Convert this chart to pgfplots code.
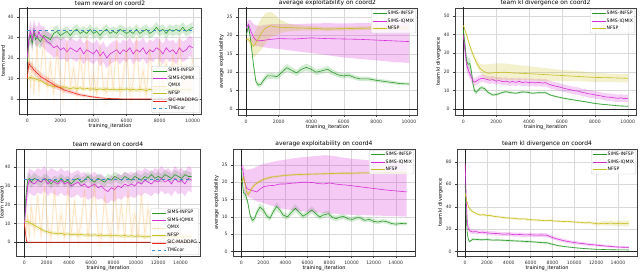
\documentclass[border=0pt]{standalone}
\usepackage{fontspec}
\setmainfont{DejaVu Sans}
\usepackage{pgfplots}
\pgfplotsset{compat=1.18}
\usepackage{pgfplotstable}
\usepgfplotslibrary{fillbetween}

\definecolor{colG}{RGB}{40,155,40}
\definecolor{colM}{RGB}{215,45,215}
\definecolor{colQ}{RGB}{255,170,60}
\definecolor{colY}{RGB}{200,190,30}
\definecolor{colR}{RGB}{240,40,30}
\definecolor{colB}{RGB}{60,140,200}

\newcommand{\bandE}[4]{%
 \addplot[draw=none, name path=#4u, forget plot] table[x=x, y expr=\thisrow{y}+\thisrow{e}] {#1};
 \addplot[draw=none, name path=#4l, forget plot] table[x=x, y expr=\thisrow{y}-\thisrow{e}] {#1};
 \addplot[fill=#2, fill opacity=#3, draw=none, forget plot] fill between[of=#4u and #4l];
}
\newcommand{\bandLH}[4]{%
 \addplot[draw=none, name path=#4u, forget plot] table[x=x, y=hi] {#1};
 \addplot[draw=none, name path=#4l, forget plot] table[x=x, y=lo] {#1};
 \addplot[fill=#2, fill opacity=#3, draw=none, forget plot] fill between[of=#4u and #4l];
}
\newcommand{\zerolines}{%
 \addplot[black!85, line width=0.6pt, forget plot] coordinates {(0,-100) (0,200)};
 \addplot[black!85, line width=0.6pt, forget plot] coordinates {(-1000,0) (20000,0)};
}

\pgfplotsset{
 mystyle/.style={
  scale only axis, anchor=north west,
  axis line style={black!75, line width=0.4pt},
  grid=major, grid style={gray!30, line width=0.35pt},
  tick align=outside, tick pos=left, major tick length=1.8pt,
  tick style={black!75, line width=0.4pt},
  scaled ticks=false,
  /pgf/number format/1000 sep={},
  /pgf/number format/assume math mode=true,
  tick label style={font=\fontsize{4.6}{5.2}\selectfont, text=black!80},
  xticklabel style={yshift=0.5pt},
  label style={font=\fontsize{5}{5.6}\selectfont},
  title style={font=\fontsize{6}{7}\selectfont, yshift=-7.5pt},
  xlabel={training\_iteration},
  xlabel style={yshift=5.5pt},
  ylabel style={yshift=-4pt},
  legend style={font=\fontsize{4.6}{5.2}\selectfont, draw=gray!40, rounded corners=1pt,
    fill=white, fill opacity=0.8, text opacity=1, inner sep=1pt, row sep=0.8pt,
    nodes={inner sep=0.9pt}},
  legend cell align=left,
  legend image code/.code={\draw[##1] (0pt,0pt) -- (14pt,0pt);},
  every axis plot/.append style={line width=0.6pt},
 },
}

% ---------------- coord2 team reward ----------------
\pgfplotstableread{
x y e
0 18 3
100 29 4
200 31 4
300 27 4
400 33 4
500 29 3.5
600 30 3.5
800 28 3.5
1000 31 3
1200 30 3
1400 29 3
1600 32 3
1800 33 3
2000 31 2.5
2200 32 2.5
2400 33 2.5
2600 31 2.5
2800 33 2.5
3000 34 2.5
3200 32 2.5
3400 33 2.5
3600 32 2.5
3800 34 2.5
4000 32 2.5
4200 33 2.5
4400 31 2.5
4600 33 2.5
4800 34 2.5
5000 32 2.5
5200 33 2.5
5400 32 2.5
5600 34 2.5
5800 33 2.5
6000 32 2.5
6200 33 2.5
6400 32 2.5
6600 34 2.5
6800 32 2.5
7000 33 2.5
7200 34 2.5
7400 32 2.5
7600 33 2.5
7800 35 2.5
8000 33 2.5
8200 34 2.5
8400 32 2.5
8600 34 2.5
8800 33 2.5
9000 34 2.5
9200 33 2.5
9400 35 2.5
9600 33 2.5
9800 34 2.5
10000 35 2.5
}\tAg
\pgfplotstableread{
x y e
0 20 4
100 30 5
200 33 5
300 29 5
400 34 5
500 31 5
600 30 5
700 33 5
800 31 5
1000 30 5
1200 28 5
1400 27 5
1600 25 5
1800 26 5
2000 24 5
2200 25 5
2400 23 5
2600 25 5
2800 24 5
3000 23 5
3200 25 5
3400 22 5
3600 24 5
3800 23 5
4000 22 5
4200 24 5
4400 21 5
4600 23 5
4800 20 5
5000 22 5
5200 23 5
5400 24 5
5600 22 5
5800 24 5
6000 23 5
6200 25 5
6400 22 5
6600 24 5
6800 23 5
7000 25 5
7200 22 5
7400 24 5
7600 23 5
7800 25 5
8000 24 5
8200 22 5
8400 25 5
8600 23 5
8800 24 5
9000 22 5
9200 25 5
9400 23 5
9600 24 5
9800 26 5
10000 25 5
}\tAm
\pgfplotstableread{
x y e
0 10 7
100 25 7
200 5 7
300 20 7
400 2 7
500 15 7
600 28 7
700 3 7
800 12 7
1000 30 7
1200 5 7
1400 18 7
1600 2 7
1800 25 7
2000 8 7
2200 3 7
2400 28 7
2600 6 7
2800 15 7
3000 2 7
3200 22 7
3400 5 7
3600 30 7
3800 4 7
4000 12 7
4200 2 7
4400 26 7
4600 6 7
4800 3 7
5000 20 7
5200 5 7
5400 28 7
5600 2 7
5800 10 7
6000 24 7
6200 3 7
6400 8 7
6600 30 7
6800 4 7
7000 14 7
7200 2 7
7400 25 7
7600 6 7
7800 3 7
8000 28 7
8200 5 7
8400 18 7
8600 2 7
8800 22 7
9000 4 7
9200 30 7
9400 6 7
9600 12 7
9800 3 7
10000 20 7
}\tAq
\pgfplotstableread{
x y e
0 10 1.2
200 10.5 1.2
400 10 1.2
600 9.5 1.2
800 9 1
1000 8 1
1200 7 1
1400 6.5 1
1600 6 1
1800 6.5 1
2000 5.5 1
2200 6 1
2400 5.5 1
2600 5 1
2800 5.5 1
3000 5 1
3200 5.5 1
3400 4.8 1
3600 5.2 1
3800 4.8 1
4000 5 1
4200 4.5 1
4400 5 1
4600 4.6 1
4800 5 1
5000 4.5 1
5200 4.8 1
5400 4.4 1
5600 4.8 1
5800 4.5 1
6000 5 1
6200 4.4 1
6400 4.7 1
6600 4.3 1
6800 4.8 1
7000 4.5 1
7200 4.2 1
7400 4.7 1
7600 4.4 1
7800 4.8 1
8000 4.5 1
8200 4.3 1
8400 4.8 1
8600 4.5 1
8800 4.2 1
9000 4.7 1
9200 4.4 1
9400 4.8 1
9600 4.3 1
9800 4.6 1
10000 4.5 1
}\tAy
\pgfplotstableread{
x y e
0 10 1
100 17.5 2
200 16 2
300 15.5 2
400 14 2
500 13.5 2
600 12.5 2
700 12 2
800 11 2
1000 10 1.8
1200 9 1.8
1400 8 1.6
1600 7 1.5
1800 6 1.4
2000 5.5 1.3
2200 4.5 1.2
2400 4 1.1
2600 3.5 1
2800 3 1
3000 2.5 0.9
3200 2 0.8
3400 1.8 0.7
3600 1.5 0.6
3800 1.2 0.5
4000 1 0.5
4400 0.6 0.4
4800 0.3 0.3
5200 0.2 0.2
5600 0.1 0.1
6000 0 0.05
10000 0 0.05
}\tAr

% ---------------- coord2 exploitability ----------------
\pgfplotstableread{
x y e
0 20 0.5
150 22.5 0.8
300 18 1
450 12 1
600 7.5 0.8
750 6.5 0.7
900 6.7 0.7
1100 8 0.8
1300 9 0.8
1600 9 0.8
1900 8.8 0.8
2200 10 0.9
2500 11.2 1
2800 10.5 0.9
3100 9.8 0.8
3400 10.8 0.9
3700 11.3 1
4000 10.8 0.9
4300 10 0.8
4600 10.3 0.8
5000 10.8 0.9
5300 10 0.8
5700 9.2 0.7
6000 9 0.7
6300 9.2 0.7
6700 8.5 0.6
7000 8.2 0.6
7500 8.2 0.6
8000 7.8 0.5
8500 7.5 0.5
9000 7.2 0.5
9500 6.9 0.4
10000 6.8 0.4
}\tBg
\pgfplotstableread{
x y lo hi
0 22 21 23
150 23 21 24.3
300 21 18.5 24
450 19.5 17.5 23
600 18.7 17 22.8
800 18.5 17 22.5
1000 18.6 16.8 22.7
1500 18.9 16.5 23
2000 19.1 16.3 23
3000 19 15.7 23
4000 19.3 15.2 23.2
5000 19.1 14.6 23.3
6000 19 14 23.2
7000 18.9 13.6 23.3
8000 18.7 13.2 23.4
9000 18.5 12.8 23.5
10000 18.3 12.5 23.4
}\tBm
\pgfplotstableread{
x y lo hi
0 19 18.5 19.5
150 18.8 18.2 19.5
300 18 16.5 19
450 17 14 19.5
600 18 14.5 21.5
800 19.5 15.5 23.5
1000 21 16.5 25
1200 22 18 26
1500 22.6 19.5 26.3
1800 22.3 20 25.5
2000 22.2 20.5 24.5
2500 22.1 21 23.3
3000 22 21.2 22.8
4000 21.9 21.3 22.5
5000 21.7 21.2 22.2
6000 21.8 21.3 22.3
7000 21.9 21.4 22.4
8000 22 21.5 22.5
9000 22 21.5 22.5
10000 22 21.5 22.5
}\tBy

% ---------------- coord2 kl ----------------
\pgfplotstableread{
x y e
0 43 2
100 35 4
200 26 4
300 24 3
400 24.5 3
500 20 3
600 13 2
700 9.5 1.5
800 9 1
1000 11 1
1100 11.5 1
1300 11 1
1500 9 0.8
1800 7.5 0.7
2100 8 0.7
2400 9 0.7
2600 9.3 0.7
2900 8.8 0.6
3200 8.5 0.6
3600 9.2 0.6
3900 9 0.6
4200 8.5 0.6
4600 8.8 0.6
5000 8.8 0.6
5300 7.5 0.5
5600 6.8 0.5
6000 6 0.5
6500 5.2 0.4
7000 4.5 0.4
7500 3.8 0.4
8000 3 0.3
8500 2.5 0.3
9000 2.1 0.3
9500 1.7 0.3
10000 1.5 0.3
}\tCg
\pgfplotstableread{
x y e
0 40 3
100 32 3
200 24 3
300 21 3
400 19 2.5
500 17 2.5
600 15 2
700 14.5 2
800 15 2
1000 16.2 2
1200 16.6 2
1400 16 2
1600 15.5 2
1800 15.8 2
2000 15 2
2200 15.3 2
2400 14.7 2
2600 15 2
2800 14.4 2
3000 14.8 2
3200 14.3 2
3400 14.9 2
3600 14.2 2
3800 14.6 2
4000 14.1 2
4200 14.5 2
4400 14 2
4600 14.4 2
4800 13.9 2
5000 14.2 2
5200 13.3 2
5400 12.8 2
5600 12.3 2
5800 12 2
6000 11.4 2
6200 11 2
6400 10.6 2
6600 10.2 2
6800 9.8 2
7000 9.6 2
7200 9 2
7400 8.7 2
7600 8.2 2
7800 8 2
8000 7.6 2
8200 7.3 2
8400 7 2
8600 6.6 2
8800 6.4 2
9000 6.3 2
9200 6 2
9400 5.8 2
9600 6 2
9800 5.6 2
10000 5.8 2
}\tCm
\pgfplotstableread{
x y lo hi
0 45 44 46
200 40 39 41
400 34 33 35
600 29 28 30.5
800 25 23.5 27
1000 22 20 24.5
1200 20.5 17.5 24
1500 19.2 15.5 24
2000 19.6 15.5 24.5
2500 19.8 15.8 24.5
3000 19.4 15.5 24
3500 19.2 15.5 23.5
4000 19 15.5 23
5000 18.5 15 22
6000 18 15 21
7000 17.5 15 20.5
8000 17 14.5 19.5
9000 16.8 14.5 19
10000 16.5 14.3 18.8
}\tCy

% ---------------- coord4 team reward ----------------
\pgfplotstableread{
x y e
0 10 3
150 25 4
300 33 3.5
450 34 3
600 32 3
900 34 3
1200 33 2.5
1500 32 2.5
1800 34 2.5
2100 33 2.5
2400 31 2.5
2700 33 2.5
3000 32 2.5
3300 34 2.5
3600 32 2.5
3900 33 2.5
4200 31 2.5
4500 33 2.5
4800 34 2.5
5100 32 2.5
5400 33 2.5
5700 35 2.5
6000 33 2.5
6300 32 2.5
6600 34 2.5
6900 33 2.5
7200 32 2.5
7500 34 2.5
7800 33 2.5
8100 35 2.5
8400 34 2.5
8700 33 2.5
9000 35 2.5
9300 34 2.5
9600 33 2.5
9900 35 2.5
10200 34 2.5
10500 33 2.5
10800 35 2.5
11100 34 2.5
11400 36 2.5
11700 34 2.5
12000 35 2.5
12300 34 2.5
12600 36 2.5
12900 35 2.5
13200 34 2.5
13500 36 2.5
13800 35 2.5
14100 34 2.5
14400 36 2.5
14700 35 2.5
15000 35 2.5
}\tDg
\pgfplotstableread{
x y e
0 10 4
150 20 6
300 30 6.5
450 33 6.5
600 32 6.5
900 31 6.5
1200 33 6.5
1500 32 6.5
1800 34 6.5
2100 31 6.5
2400 33 6.5
2700 32 6.5
3000 31 6.5
3300 33 6.5
3600 31 6.5
3900 32 6.5
4200 30 6.5
4500 31 6.5
4800 32 6.5
5100 30 6.5
5400 31 6.5
5700 29 6.5
6000 30 6.5
6300 31 6.5
6600 29 6.5
6900 30 6.5
7200 28 6.5
7500 27 6.5
7800 29 6.5
8100 28 6.5
8400 30 6.5
8700 29 6.5
9000 31 6.5
9300 30 6.5
9600 31 6.5
9900 30 6.5
10200 32 6.5
10500 31 6.5
10800 33 6.5
11100 32 6.5
11400 31 6.5
11700 33 6.5
12000 32 6.5
12300 34 6.5
12600 32 6.5
12900 33 6.5
13200 31 6.5
13500 34 6.5
13800 32 6.5
14100 33 6.5
14400 31 6.5
14700 34 6.5
15000 33 6.5
}\tDm
\pgfplotstableread{
x y e
0 10 5
150 5 7
300 15 7
450 2 7
600 20 7
900 5 7
1200 25 7
1500 3 7
1800 30 7
2100 8 7
2400 2 7
2700 28 7
3000 5 7
3300 15 7
3600 2 7
3900 30 7
4200 4 7
4500 22 7
4800 3 7
5100 10 7
5400 28 7
5700 2 7
6000 18 7
6300 30 7
6600 5 7
6900 2 7
7200 25 7
7500 8 7
7800 3 7
8100 30 7
8400 6 7
8700 20 7
9000 2 7
9300 28 7
9600 5 7
9900 15 7
10200 3 7
10500 25 7
10800 4 7
11100 18 7
11400 3 5
11700 5 4
12000 3 3
12300 4 3
12600 3 3
12900 5 3
13200 3 3
13500 4 3
13800 3 3
14100 5 3
14400 3 3
14700 4 3
15000 3 3
}\tDq
\pgfplotstableread{
x y e
0 11 1.5
300 11 1.5
600 10 1.2
900 9 1.2
1200 8 1
1500 7 1
1800 6 1
2100 5.5 1
2400 5 1
2700 4.8 1
3000 4.5 1
3300 4.7 1
3600 4.2 1
3900 4.5 1
4200 4 1
4500 4.3 1
4800 3.9 1
5100 4.2 1
5400 3.8 1
5700 4 1
6000 3.7 1
6300 4 1
6600 3.6 1
6900 3.9 1
7200 3.5 1
7500 3.8 1
7800 3.4 1
8100 3.7 1
8400 3.5 1
8700 3.3 1
9000 3.6 1
9300 3.2 1
9600 3.5 1
9900 3.1 1
10200 3.4 1
10500 3.2 1
10800 2.8 1
11100 3.2 1
11400 3 1
11700 3.3 1
12000 2.9 1
12300 3.2 1
12600 2.8 1
12900 3.1 1
13200 2.9 1
13500 3.2 1
13800 2.8 1
14100 3 1
14400 2.8 1
14700 3.1 1
15000 3 1
}\tDy
\pgfplotstableread{
x y e
0 10 1
100 5 1.5
200 0.5 0.5
300 0 0.05
15000 0 0.05
}\tDr

% ---------------- coord4 exploitability ----------------
\pgfplotstableread{
x y e
0 24 1
100 20 1.5
200 17 1.5
400 16.3 1
600 14 1
800 10.5 0.8
1000 9 0.8
1200 9.5 0.8
1400 11.2 1
1700 12.8 1.2
2000 12 1
2300 10.3 0.9
2600 9.6 0.8
2900 11.5 1
3200 13 1.2
3500 12 1
3800 10.5 0.9
4200 10 0.8
4600 11.5 1
4900 12.5 1.1
5300 11.2 1
5600 10.2 0.8
6000 11 0.9
6400 12 1
6800 10.8 0.9
7100 10 0.8
7500 10.6 0.9
7900 10.9 0.9
8300 9.8 0.8
8600 9.5 0.8
9000 10 0.8
9300 10.1 0.8
9700 9.4 0.7
10100 9.3 0.7
10500 9.8 0.7
10800 9.7 0.7
11200 9 0.6
11600 9.3 0.7
12000 8.7 0.6
12400 8.5 0.6
12800 8.8 0.6
13200 8.6 0.6
13600 8.1 0.5
14000 7.9 0.5
14500 8.1 0.5
15000 8 0.5
}\tEg
\pgfplotstableread{
x y lo hi
0 24.5 23.5 25.5
150 23.5 21.5 25
300 20 17 24
500 18.2 16 23.5
800 17.8 15.5 23.8
1100 17.5 15 24
1400 17.2 14.5 24.5
1700 18 14.2 25
2000 18.7 14 25.3
2500 19 13.5 25.6
3000 19.1 13 26
3500 19.5 12.5 26.3
4000 19.5 12.2 26.5
4500 19.7 12 26.8
5000 19.8 11.8 27
5500 20 11.6 27.2
6000 20 11.5 27.3
6500 19.9 11.3 27.5
7000 19.6 11.2 27.6
7500 19.5 11 27.8
8000 19.8 11 27.7
8500 19.5 10.9 27.5
9000 19.3 10.8 27.2
9500 19.2 10.7 27
10000 19 10.6 26.8
11000 18.6 10.5 26.5
12000 18.2 10.4 26.2
13000 17.8 10.3 26
14000 17.5 10.2 25.8
15000 17.2 10.1 25.5
}\tEm
\pgfplotstableread{
x y e
0 20 0.8
100 20.5 0.8
200 21.5 0.8
350 19.5 0.8
500 17 0.8
650 16.5 0.6
800 17.3 0.5
1000 18.5 0.5
1300 19.5 0.4
1700 20.3 0.4
2000 20.8 0.4
2500 21.3 0.4
3000 21.6 0.3
4000 22 0.3
5000 22.2 0.3
6000 22.3 0.3
7000 22.4 0.3
8000 22.5 0.3
9000 22.6 0.3
10000 22.6 0.3
11000 22.7 0.3
12000 22.7 0.3
13000 22.8 0.3
14000 22.8 0.3
15000 22.8 0.3
}\tEy

% ---------------- coord4 kl ----------------
\pgfplotstableread{
x y e
0 60 3
100 30 3
200 15 2
300 10.5 1.5
400 9 1
500 9.5 1
700 11 1
1000 10.8 1
1500 10.5 1
2000 10.7 1
2500 10.2 1
3000 10.3 1
3500 10 1
4000 9.8 1
4500 9.5 1
5000 9.3 1
5500 9 1
6000 8.8 1
6500 8.4 1
7000 8 1
7500 7.8 1
8000 6.5 0.8
8500 5.3 0.7
9000 4.6 0.6
9500 4 0.5
10000 3.4 0.5
10500 3 0.5
11000 2.6 0.4
11500 2.3 0.4
12000 2 0.4
13000 1.7 0.3
14000 1.5 0.3
15000 1.4 0.3
}\tFg
\pgfplotstableread{
x y e
0 78 2
100 45 3
200 25 3
300 20 2
500 18 2
700 17.5 2
1000 17.8 1.8
1300 17 1.8
1600 17.3 1.8
2000 16.6 1.8
2500 16.2 1.8
3000 16 1.8
3500 15.5 1.8
4000 15.7 1.8
4500 15 1.8
5000 15.2 1.8
5500 14.8 1.8
6000 15 1.8
6500 14.6 1.8
7000 14.8 1.8
7500 14.5 1.8
8000 12.5 1.6
8500 11 1.5
9000 9.8 1.5
9500 8.8 1.4
10000 8 1.4
10500 7.4 1.3
11000 6.8 1.3
11500 6.2 1.2
12000 5.8 1.2
12500 5.2 1.1
13000 4.8 1.1
13500 4.4 1
14000 4 1
14500 3.8 1
15000 3.7 1
}\tFm
\pgfplotstableread{
x y e
0 52 1
150 45 1
300 40 1
500 37 1
800 35 1
1100 33.5 1
1400 32.5 1
1700 33 1
2000 32 1
2300 32.3 1
2600 31.4 1
3000 31 1
3400 30.5 1
3800 30 1
4200 29.8 1
4600 29.5 1
5000 29 1
5400 29.2 1
5800 28.5 1
6200 28.3 1
6600 28 1
7000 27.8 1
7400 27.5 1
7800 27.8 1
8200 27.2 1
8600 27 1
9000 26.8 1
9400 26.9 1
9800 26.5 1
10200 26.2 1
10600 26 1
11000 25.6 1.2
11400 25.8 1.3
11800 25.2 1.4
12200 24.7 1.6
12600 25.3 1.8
13000 25 2
13400 25.4 2.2
13800 24.8 2.3
14200 25.3 2.4
14600 24.9 2.5
15000 25.3 2.5
}\tFy

\begin{document}
\begin{tikzpicture}

% ===== 1: team reward coord2 =====
\begin{axis}[mystyle, at={(19pt,263pt)}, width=182pt, height=106pt,
  xmin=-500, xmax=10500, ymin=-7.3, ymax=44.4,
  xtick={0,2000,4000,6000,8000,10000}, ytick={0,10,20,30,40},
  title={team reward on coord2}, ylabel={team reward},
  legend style={at={(0.995,0.01)}, anchor=south east}]
\bandE{\tAg}{colG}{0.2}{ag}
\bandE{\tAm}{colM}{0.22}{am}
\bandE{\tAq}{colQ}{0.08}{aq}
\bandE{\tAy}{colY}{0.2}{ay}
\bandE{\tAr}{colR}{0.2}{ar}
\zerolines
\addplot[colG] table[x=x,y=y] {\tAg};
\addplot[colM] table[x=x,y=y] {\tAm};
\addplot[colQ, opacity=0.3] table[x=x,y=y] {\tAq};
\addplot[colY] table[x=x,y=y] {\tAy};
\addplot[colR] table[x=x,y=y] {\tAr};
\addplot[colB, dashed] coordinates {(0,33.5) (10000,33.5)};
\legend{SIMS-INFSP, SIMS-IQMIX, QMIX, NFSP, SIC-MADDPG, TMEcor}
\end{axis}

% ===== 2: exploitability coord2 =====
\begin{axis}[mystyle, at={(238pt,263pt)}, width=179pt, height=107pt,
  xmin=-500, xmax=10500, ymin=-1.6, ymax=27.4,
  xtick={0,2000,4000,6000,8000,10000}, ytick={0,5,10,15,20,25},
  title={average exploitability on coord2}, ylabel={average exploitability},
  legend style={at={(0.995,0.99)}, anchor=north east}]
\bandE{\tBg}{colG}{0.2}{bg}
\bandLH{\tBm}{colM}{0.25}{bm}
\bandLH{\tBy}{colY}{0.25}{by}
\zerolines
\addplot[colG] table[x=x,y=y] {\tBg};
\addplot[colM] table[x=x,y=y] {\tBm};
\addplot[colY] table[x=x,y=y] {\tBy};
\legend{SIMS-INFSP, SIMS-IQMIX, NFSP}
\end{axis}

% ===== 3: kl coord2 =====
\begin{axis}[mystyle, at={(455pt,263pt)}, width=181pt, height=107pt,
  xmin=-500, xmax=10500, ymin=-3.2, ymax=54.3,
  xtick={0,2000,4000,6000,8000,10000}, ytick={0,10,20,30,40,50},
  title={team kl divergence on coord2}, ylabel={team kl divergence},
  legend style={at={(0.995,0.99)}, anchor=north east}]
\bandE{\tCg}{colG}{0.2}{kg}
\bandE{\tCm}{colM}{0.22}{km}
\bandLH{\tCy}{colY}{0.22}{ky}
\zerolines
\addplot[colG] table[x=x,y=y] {\tCg};
\addplot[colM] table[x=x,y=y] {\tCm};
\addplot[colY] table[x=x,y=y] {\tCy};
\legend{SIMS-INFSP, SIMS-IQMIX, NFSP}
\end{axis}

% ===== 4: team reward coord4 =====
\begin{axis}[mystyle, at={(16pt,122pt)}, width=184pt, height=107pt,
  xmin=-750, xmax=15750, ymin=-7.3, ymax=49.6,
  xtick={0,2000,4000,6000,8000,10000,12000,14000}, ytick={0,10,20,30,40},
  title={team reward on coord4}, ylabel={team reward},
  ylabel style={yshift=-1.8pt},
  legend style={at={(0.995,0.01)}, anchor=south east}]
\bandE{\tDg}{colG}{0.2}{dg}
\bandE{\tDm}{colM}{0.22}{dm}
\bandE{\tDq}{colQ}{0.08}{dq}
\bandE{\tDy}{colY}{0.2}{dy}
\bandE{\tDr}{colR}{0.2}{dr}
\zerolines
\addplot[colG] table[x=x,y=y] {\tDg};
\addplot[colM] table[x=x,y=y] {\tDm};
\addplot[colQ, opacity=0.3] table[x=x,y=y] {\tDq};
\addplot[colY] table[x=x,y=y] {\tDy};
\addplot[colR] table[x=x,y=y] {\tDr};
\addplot[colB, dashed] coordinates {(0,33.5) (15000,33.5)};
\legend{SIMS-INFSP, SIMS-IQMIX, QMIX, NFSP, SIC-MADDPG, TMEcor}
\end{axis}

% ===== 5: exploitability coord4 =====
\begin{axis}[mystyle, at={(233pt,122pt)}, width=182pt, height=107pt,
  xmin=-750, xmax=15750, ymin=-1.3, ymax=29.6,
  xtick={0,2000,4000,6000,8000,10000,12000,14000}, ytick={0,5,10,15,20,25},
  title={average exploitability on coord4}, ylabel={average exploitability},
  legend style={at={(0.995,0.99)}, anchor=north east}]
\bandE{\tEg}{colG}{0.2}{eg}
\bandLH{\tEm}{colM}{0.25}{em}
\bandE{\tEy}{colY}{0.25}{ey}
\zerolines
\addplot[colG] table[x=x,y=y] {\tEg};
\addplot[colM] table[x=x,y=y] {\tEm};
\addplot[colY] table[x=x,y=y] {\tEy};
\legend{SIMS-INFSP, SIMS-IQMIX, NFSP}
\end{axis}

% ===== 6: kl coord4 =====
\begin{axis}[mystyle, at={(457pt,122pt)}, width=180pt, height=107pt,
  xmin=-750, xmax=15750, ymin=-4, ymax=91.5,
  xtick={0,2000,4000,6000,8000,10000,12000,14000}, ytick={0,20,40,60,80},
  title={team kl divergence on coord4}, ylabel={team kl divergence},
  legend style={at={(0.995,0.99)}, anchor=north east}]
\bandE{\tFg}{colG}{0.2}{fg}
\bandE{\tFm}{colM}{0.22}{fm}
\bandE{\tFy}{colY}{0.22}{fy}
\zerolines
\addplot[colG] table[x=x,y=y] {\tFg};
\addplot[colM] table[x=x,y=y] {\tFm};
\addplot[colY] table[x=x,y=y] {\tFy};
\legend{SIMS-INFSP, SIMS-IQMIX, NFSP}
\end{axis}
\pgfresetboundingbox
\path (0pt,0pt) rectangle (640pt,271pt);
\end{tikzpicture}
\end{document}
